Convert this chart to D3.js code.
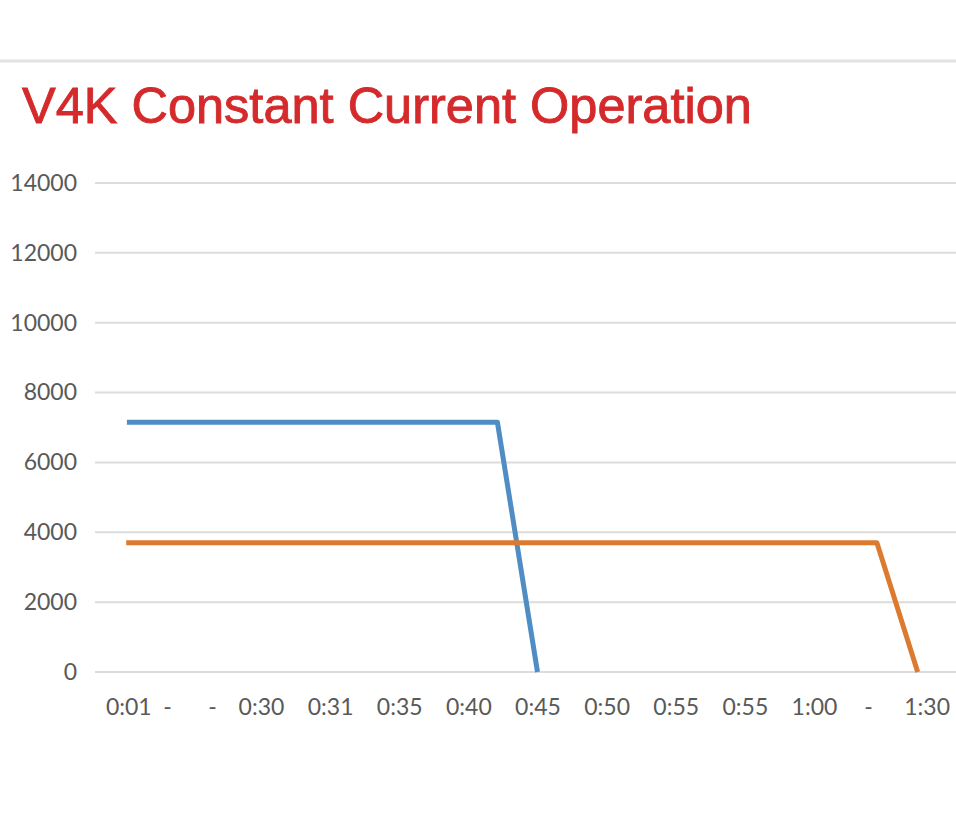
<!DOCTYPE html>
<html><head><meta charset="utf-8">
<script src="https://cdn.jsdelivr.net/npm/d3@7"></script>
<style>
html,body{margin:0;padding:0;background:#fff;}
svg{display:block;}
</style></head>
<body>
<script>
// ---- data ----
const title = "V4K Constant Current Operation";
const yTicks = [0, 2000, 4000, 6000, 8000, 10000, 12000, 14000];
const xTickLabels = ["0:01", "-", "-", "0:30", "0:31", "0:35", "0:40", "0:45", "0:50", "0:55", "0:55", "1:00", "-", "1:30"];
const xTickPos = [0.08, 0.64, 1.29, 2, 3, 4, 5, 6, 7, 8, 9, 10, 10.78, 11.63];
const blueX = [0.06, 5.42, 6.0];
const blueY = [7150, 7150, 0];
const orangeX = [0.05, 10.91, 11.5];
const orangeY = [3700, 3700, 0];

// ---- drawing ----
const W = 956, H = 838;
const svg = d3.select("body").append("svg").attr("width", W).attr("height", H);

// top border line
svg.append("line").attr("x1", 0).attr("x2", W).attr("y1", 61).attr("y2", 61)
  .attr("stroke", "#e2e2e2").attr("stroke-width", 3);

svg.append("text").text(title)
  .attr("x", 22).attr("y", 123)
  .attr("font-family", "Liberation Sans, Arial, sans-serif")
  .attr("font-size", 50.5).attr("fill", "#d42a2c")
  .attr("stroke", "#d42a2c").attr("stroke-width", 0.9);

const x = d3.scaleLinear().domain([0, 12]).range([122.75, 952.25]);
const y = d3.scaleLinear().domain([0, 14000]).range([672, 183]);

// gridlines
svg.append("g").selectAll("line").data(yTicks).join("line")
  .attr("x1", 95).attr("x2", W)
  .attr("y1", d => y(d)).attr("y2", d => y(d))
  .attr("stroke", "#dcdcdc").attr("stroke-width", 2);

// y axis
const yAxis = svg.append("g").attr("transform", "translate(86,0)")
  .call(d3.axisLeft(y).tickValues(yTicks).tickSize(0).tickPadding(9).tickFormat(d3.format("d")));
yAxis.select(".domain").remove();
yAxis.selectAll("text").attr("font-family", "Lato, sans-serif").attr("font-size", 23).attr("fill", "#595959");

// x axis
const xAxis = svg.append("g").attr("transform", "translate(0,699)")
  .call(d3.axisBottom(x).tickValues(xTickPos).tickSize(0).tickPadding(0)
    .tickFormat((d, i) => xTickLabels[i]));
xAxis.select(".domain").remove();
xAxis.selectAll("text").attr("font-family", "Lato, sans-serif").attr("font-size", 23).attr("fill", "#595959");

const line = d3.line().x(d => x(d[0])).y(d => y(d[1]));
svg.append("path").datum(blueX.map((v, i) => [v, blueY[i]]))
  .attr("d", line).attr("fill", "none").attr("stroke", "#4f8dc4").attr("stroke-width", 5)
  .attr("stroke-linejoin", "round");
svg.append("path").datum(orangeX.map((v, i) => [v, orangeY[i]]))
  .attr("d", line).attr("fill", "none").attr("stroke", "#dc7a30").attr("stroke-width", 5)
  .attr("stroke-linejoin", "round");
</script>
</body></html>
